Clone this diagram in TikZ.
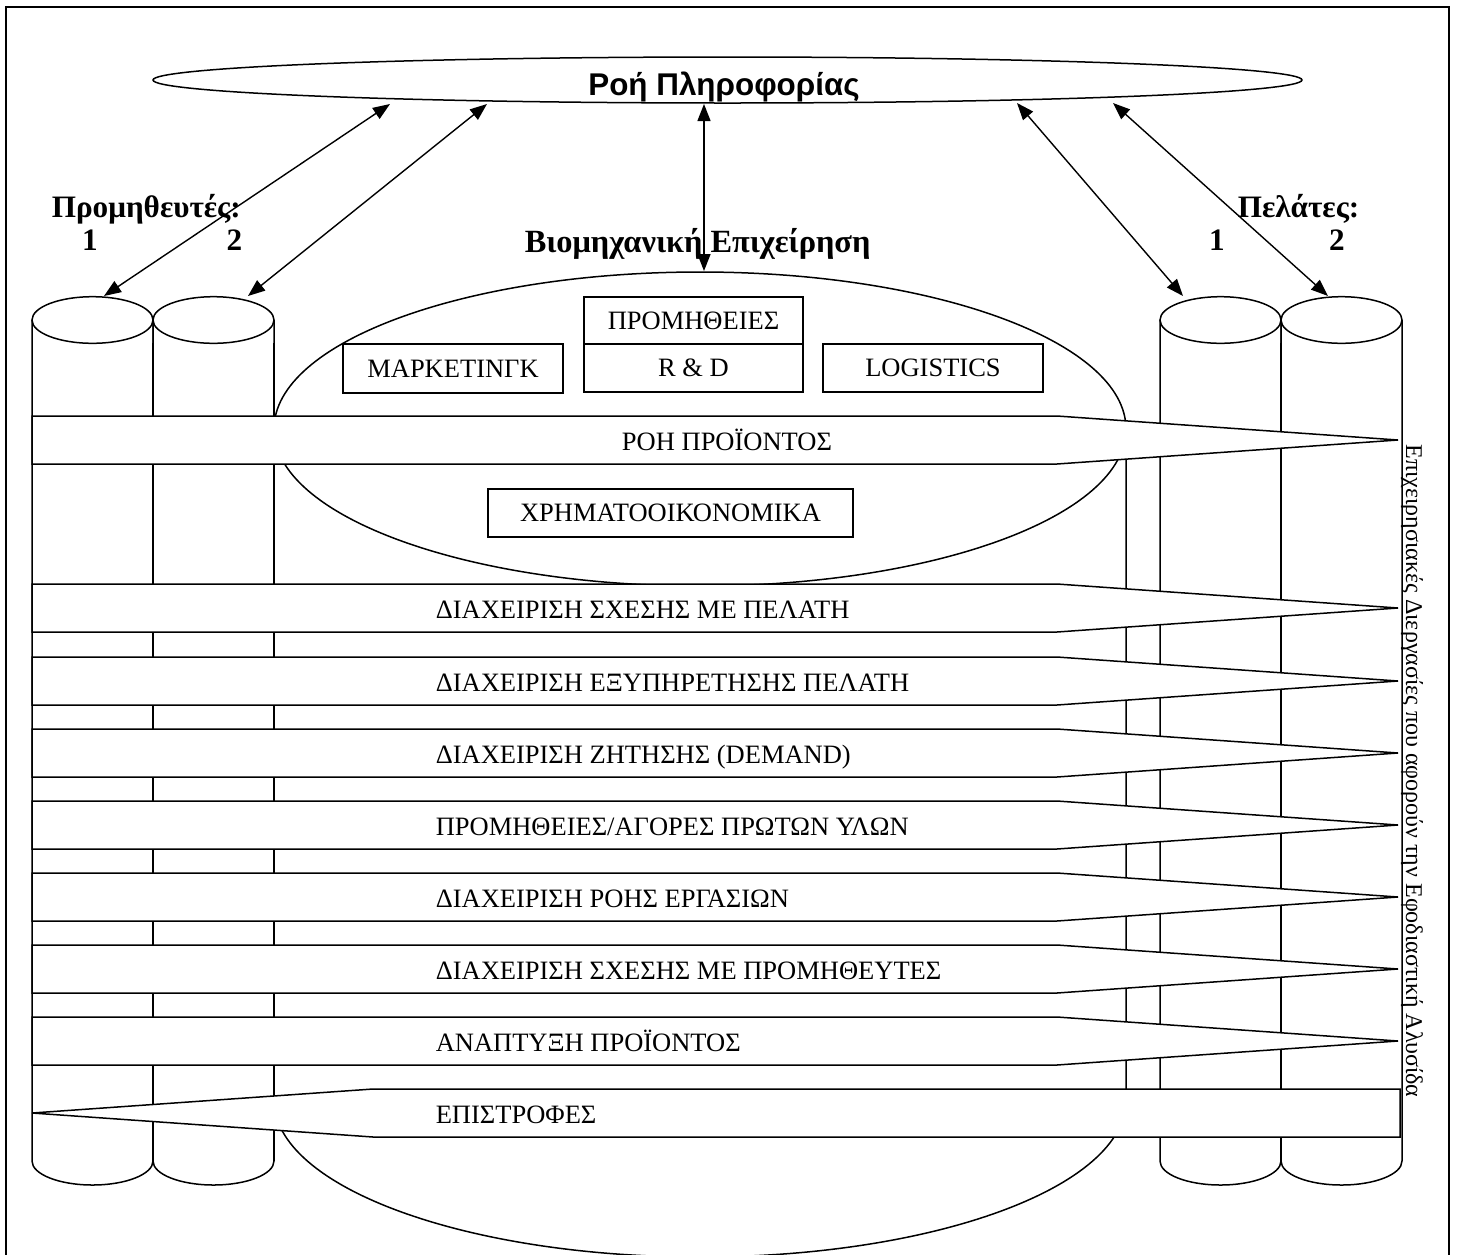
\documentclass[tikz,border=0pt]{standalone}
\usepackage{fontspec}
\setmainfont{Liberation Serif}
\newfontfamily\headsans{Liberation Sans}
\usetikzlibrary{arrows.meta,shapes.geometric}

\begin{document}
\begin{tikzpicture}[x=1pt,y=1pt,line width=1.5pt,
  txt/.style={font=\fontsize{26.5}{30}\selectfont,inner sep=0pt},
  boldtxt/.style={font=\fontsize{31.2}{34}\selectfont\bfseries,inner sep=0pt},
  unit/.style={draw,fill=white,txt,text height=17.5pt,text depth=0pt},
  band/.style={draw,fill=white,line join=miter},
  flow/.style={{Triangle[length=17pt,width=13pt]}-{Triangle[length=17pt,width=13pt]},line width=1.4pt},
  seam/.style={line width=2.8pt}]

\useasboundingbox (0,0) rectangle (1457,-1254);

% outer frame
\draw[line width=2.4pt] (6,-7) rectangle (1449,-1260);

% information flow ellipse
\node[draw,ellipse,fill=white,minimum width=1149,minimum height=46,inner sep=0pt] (info) at (727.5,-80) {};
\node[font=\fontsize{31.4}{34}\selectfont\headsans\bfseries,inner sep=0pt,anchor=base] (infotxt) at (724,-95) {Ροή Πληροφορίας};

% manufacturing company cylinder
\draw (274,-429) -- (274,-1100) arc[start angle=180,end angle=360,x radius=426,y radius=157] -- (1126,-429);
\draw (700,-429) ellipse [x radius=426,y radius=157];

% supplier and customer cylinders
\foreach \cx/\nm in {92.5/s1,213.5/s2,1220.5/c1,1341.5/c2}{
  \draw (\cx-60.5,-320) -- (\cx-60.5,-1161) arc[start angle=180,end angle=360,x radius=60.5,y radius=24] -- (\cx+60.5,-320);
  \draw (\cx,-320) ellipse [x radius=60.5,y radius=23.3];
  \coordinate (\nm) at (\cx,-296.7);
}
\draw[seam] (153,-343) -- (153,-1161);
\draw[seam] (274,-343) -- (274,-1161);
\draw[seam] (1281,-343) -- (1281,-1161);

% functional units
\node[unit,minimum width=220,minimum height=49] (mkt) at (453,-368.5) {ΜΑΡΚΕΤΙΝΓΚ};
\node[unit,minimum width=219,minimum height=47] (prom) at (693.5,-320.5) {ΠΡΟΜΗΘΕΙΕΣ};
\node[unit,minimum width=219,minimum height=48] (rd) at (693.5,-368) {R \& D};
\node[unit,minimum width=220,minimum height=48] (log) at (933,-368) {LOGISTICS};
\node[unit,minimum width=365,minimum height=48] (fin) at (670.5,-513) {ΧΡΗΜΑΤΟΟΙΚΟΝΟΜΙΚΑ};

% product flow band
\draw[band] (32,-416) -- (1057,-416) -- (1398,-440) -- (1057,-464) -- (32,-464) -- cycle;
\node[txt,anchor=base] (b0) at (727,-450) {ΡΟΗ ΠΡΟΪΟΝΤΟΣ};

% process bands
\foreach \t/\lab [count=\i] in {
  584/{ΔΙΑΧΕΙΡΙΣΗ ΣΧΕΣΗΣ ΜΕ ΠΕΛΑΤΗ},
  657/{ΔΙΑΧΕΙΡΙΣΗ ΕΞΥΠΗΡΕΤΗΣΗΣ ΠΕΛΑΤΗ},
  729/{ΔΙΑΧΕΙΡΙΣΗ ΖΗΤΗΣΗΣ (DEMAND)},
  801/{ΠΡΟΜΗΘΕΙΕΣ/ΑΓΟΡΕΣ ΠΡΩΤΩΝ ΥΛΩΝ},
  873/{ΔΙΑΧΕΙΡΙΣΗ ΡΟΗΣ ΕΡΓΑΣΙΩΝ},
  945/{ΔΙΑΧΕΙΡΙΣΗ ΣΧΕΣΗΣ ΜΕ ΠΡΟΜΗΘΕΥΤΕΣ},
  1017/{ΑΝΑΠΤΥΞΗ ΠΡΟΪΟΝΤΟΣ}}{
  \draw[band] (32,-\t) -- (1057,-\t) -- (1398,-\t-24) -- (1057,-\t-48) -- (32,-\t-48) -- cycle;
  \node[txt,anchor=base west] (b\i) at (435,-\t-34) {\lab};
}
% returns band (reverse direction)
\draw[band] (1400,-1089) -- (373,-1089) -- (32,-1113) -- (373,-1137) -- (1400,-1137) -- cycle;
\node[txt,anchor=base west] (b8) at (435,-1123) {ΕΠΙΣΤΡΟΦΕΣ};

% side caption
\node[font=\fontsize{24}{27}\selectfont,inner sep=0pt,anchor=base,rotate=-90] (side) at (1406,-771)
  {Επιχειρησιακές Διεργασίες που αφορούν την Εφοδιαστική Αλυσίδα};

% labels
\node[boldtxt,anchor=base west] (sup) at (51,-217) {Προμηθευτές:};
\node[boldtxt,anchor=base] (sup1) at (90,-250) {1};
\node[boldtxt,anchor=base] (sup2) at (234.5,-250) {2};
\node[boldtxt,anchor=base west] (cus) at (1237,-217) {Πελάτες:};
\node[boldtxt,anchor=base] (cus1) at (1217,-250) {1};
\node[boldtxt,anchor=base] (cus2) at (1337,-250) {2};
\node[boldtxt,font=\fontsize{32.4}{36}\selectfont\bfseries,anchor=base west] (firm) at (524,-252) {Βιομηχανική Επιχείρηση};

% information exchange arrows
\coordinate (i1) at (390,-104);
\coordinate (i2) at (487,-104);
\coordinate (i3) at (704,-104);
\coordinate (i4) at (1017,-103);
\coordinate (i5) at (1113,-103);
\coordinate (s1t) at (104,-296);
\coordinate (s2t) at (248,-296);
\coordinate (ft) at (704,-271);
\coordinate (c1t) at (1183,-296);
\coordinate (c2t) at (1328,-296);
\draw[flow] (i1) -- (s1t);
\draw[flow] (i2) -- (s2t);
\draw[flow] (i3) -- (ft);
\draw[flow] (i4) -- (c1t);
\draw[flow] (i5) -- (c2t);

\end{tikzpicture}
\end{document}
